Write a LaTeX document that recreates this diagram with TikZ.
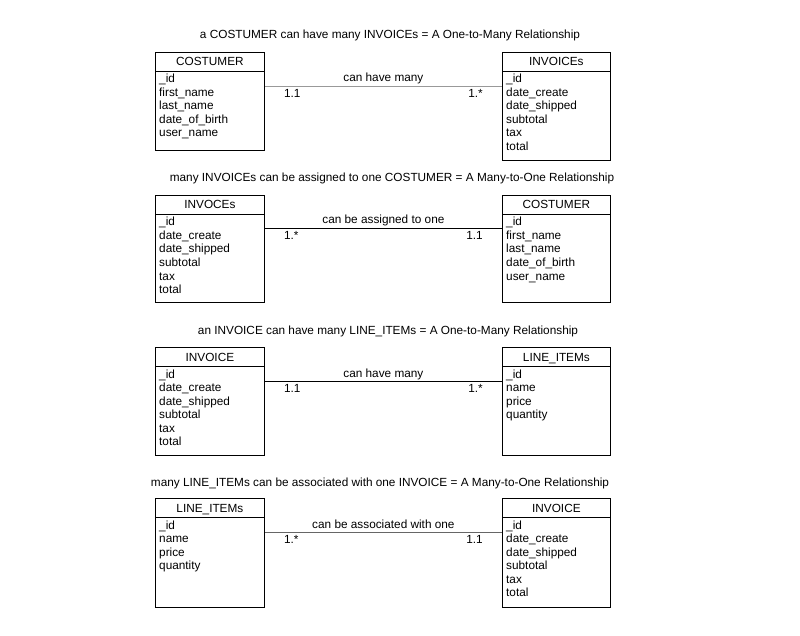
\documentclass[tikz,border=0pt]{standalone}
\usepackage{fontspec}
\setmainfont{Liberation Sans}
\definecolor{lightline}{HTML}{999999}
\definecolor{midline}{HTML}{666666}
\tikzset{
  classbox/.style={draw=black, line width=0.8pt, inner sep=0pt, anchor=north west},
  sepline/.style={draw=black, line width=0.8pt},
  attr/.style={inner sep=0pt, anchor=base west},
  hdr/.style={inner sep=0pt, anchor=base},
  ttl/.style={inner sep=0pt, anchor=base},
  conn/.style={line width=0.9pt},
  midlbl/.style={inner sep=0pt, anchor=base, yshift=4pt},
  multl/.style={inner sep=0pt, anchor=base west},
  multr/.style={inner sep=0pt, anchor=base east}
}
% name, x, top, width, height, title, attributes
\newcommand\umlclass[7]{%
  \node[classbox, minimum width=#4pt, minimum height=#5pt] (#1) at (#2,#3) {};
  \draw[sepline] ([yshift=-19pt]#1.north west) -- ([yshift=-19pt]#1.north east);
  \node[hdr] (#1-t) at ([yshift=-14pt]#1.north) {#6};
  \foreach \a [count=\i] in {#7}
    \node[attr] (#1-\i) at ([xshift=4pt,yshift={-31pt-13.5pt*(\i-1)}]#1.north west) {\a};
}
% left node, right node, dy, colour, label, left mult, right mult
\newcommand\assoc[7]{%
  \draw[conn, draw=#4] ([yshift=-#3pt]#1.north east) -- node[midlbl] (#1-lbl) {#5} ([yshift=-#3pt]#2.north west);
  \node[multl] (#1-ml) at ([xshift=19pt,yshift={-#3pt-11.5pt}]#1.north east) {#6};
  \node[multr] (#2-mr) at ([xshift=-19pt,yshift={-#3pt-11.5pt}]#2.north west) {#7};
}
\begin{document}
\begin{tikzpicture}[x=1pt,y=-1pt,font=\fontsize{11.8}{13.5}\selectfont]
\useasboundingbox (0,0) rectangle (800,636);
\fill[white] (0,0) rectangle (800,636);

% ---- block 1
\node[ttl] (t1) at (390,39) {a COSTUMER can have many INVOICEs = A One-to-Many Relationship};
\umlclass{a1}{155}{52}{109}{98}{COSTUMER}{\_id,first\_name,last\_name,date\_of\_birth,user\_name}
\umlclass{b1}{502}{52}{108}{108}{INVOICEs}{\_id,date\_create,date\_shipped,subtotal,tax,total}
\assoc{a1}{b1}{34}{lightline}{can have many}{1.1}{1.*}

% ---- block 2
\node[ttl] (t2) at (392,182) {many INVOICEs can be assigned to one COSTUMER = A Many-to-One Relationship};
\umlclass{a2}{155}{195}{109}{107}{INVOCEs}{\_id,date\_create,date\_shipped,subtotal,tax,total}
\umlclass{b2}{502}{195}{108}{107}{COSTUMER}{\_id,first\_name,last\_name,date\_of\_birth,user\_name}
\assoc{a2}{b2}{33}{black}{can be assigned to one}{1.*}{1.1}

% ---- block 3
\node[ttl] (t3) at (388,334) {an INVOICE can have many LINE\_ITEMs = A One-to-Many Relationship};
\umlclass{a3}{155}{347}{109}{108}{INVOICE}{\_id,date\_create,date\_shipped,subtotal,tax,total}
\umlclass{b3}{502}{347}{108}{108}{LINE\_ITEMs}{\_id,name,price,quantity}
\assoc{a3}{b3}{34}{black}{can have many}{1.1}{1.*}

% ---- block 4
\node[ttl] (t4) at (380,486) {many LINE\_ITEMs can be associated with one INVOICE = A Many-to-One Relationship};
\umlclass{a4}{155}{498}{109}{109}{LINE\_ITEMs}{\_id,name,price,quantity}
\umlclass{b4}{502}{498}{108}{109}{INVOICE}{\_id,date\_create,date\_shipped,subtotal,tax,total}
\assoc{a4}{b4}{34}{midline}{can be associated with one}{1.*}{1.1}
\end{tikzpicture}
\end{document}
